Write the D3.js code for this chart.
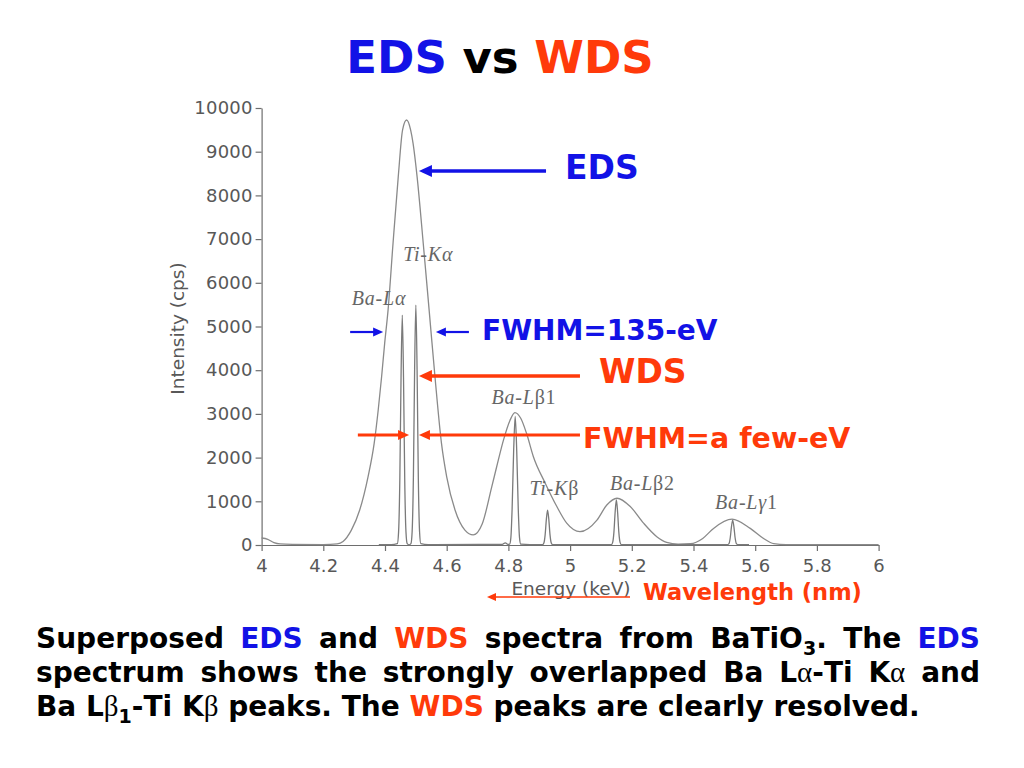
<!DOCTYPE html>
<html>
<head>
<meta charset="utf-8">
<script src="https://d3js.org/d3.v7.min.js"></script>
<style>
  body { margin: 0; background: #fff; }
  svg { display: block; }
</style>
</head>
<body>
<div id="main"></div>
<script>
// ---- data ----
const xTicks = [4, 4.2, 4.4, 4.6, 4.8, 5, 5.2, 5.4, 5.6, 5.8, 6];
const yTicks = [0, 1000, 2000, 3000, 4000, 5000, 6000, 7000, 8000, 9000, 10000];

// EDS spectrum, [energy keV, intensity cps]
const edsSpectrum = [
  [4.000, 160], [4.020, 130], [4.040, 55], [4.060, 25], [4.100, 15], [4.200, 10],
  [4.245, 25], [4.264, 80], [4.291, 340], [4.318, 800], [4.345, 1560], [4.365, 2330],
  [4.378, 3090], [4.389, 3850], [4.399, 4620], [4.410, 5380], [4.426, 6900], [4.443, 8430],
  [4.457, 9500], [4.470, 9725], [4.483, 9500], [4.491, 9190], [4.504, 8430], [4.524, 6900],
  [4.543, 5380], [4.562, 3850], [4.583, 2330], [4.600, 1560], [4.627, 800], [4.659, 340],
  [4.686, 230], [4.715, 480], [4.746, 1330], [4.762, 1790], [4.784, 2400], [4.805, 2850],
  [4.821, 3030], [4.840, 2900], [4.859, 2550], [4.881, 2020], [4.919, 1420], [4.957, 880],
  [4.989, 500], [5.032, 305], [5.087, 570], [5.119, 915], [5.152, 1070], [5.195, 880],
  [5.238, 500], [5.281, 190], [5.313, 60], [5.350, 20], [5.390, 30], [5.430, 150],
  [5.465, 380], [5.525, 590], [5.584, 380], [5.627, 150], [5.660, 30], [5.700, 10],
  [6.000, 10]
];

// WDS spectrum, [energy keV, intensity cps]
const wdsSpectrum = [
  [4.380, 10], [4.420, 10], [4.440, 30], [4.444, 295], [4.448, 1470], [4.452, 3840],
  [4.456, 5260], [4.460, 3840], [4.464, 1470], [4.468, 295], [4.472, 30], [4.478, 5],
  [4.484, 30], [4.488, 310], [4.492, 1540], [4.496, 4010], [4.500, 5490], [4.504, 4010],
  [4.508, 1540], [4.512, 310], [4.516, 30], [4.540, 10], [4.560, 10],
  [4.780, 15], [4.790, 50], [4.798, 15], [4.804, 20], [4.808, 170], [4.812, 820],
  [4.817, 2150], [4.822, 2940], [4.827, 2150], [4.832, 820], [4.836, 170], [4.840, 20],
  [4.870, 10], [4.911, 10], [4.915, 45], [4.919, 225], [4.923, 585], [4.927, 800],
  [4.931, 585], [4.935, 225], [4.939, 45], [4.943, 10], [5.100, 10], [5.134, 10],
  [5.138, 60], [5.142, 290], [5.146, 750], [5.150, 1030], [5.154, 750], [5.158, 290],
  [5.162, 60], [5.166, 10], [5.200, 10], [5.480, 10], [5.511, 10], [5.515, 30],
  [5.519, 160], [5.523, 415], [5.527, 570], [5.531, 415], [5.535, 160], [5.539, 30],
  [5.543, 10], [5.580, 10]
];

// peak names and where they sit (energy, intensity of baseline)
const peakLabels = [
  { name: "Ba-L", greek: "α", sub: "",  energy: 4.292, level: 5490 },
  { name: "Ti-K", greek: "α", sub: "",  energy: 4.459, level: 6500 },
  { name: "Ba-L", greek: "β", sub: "1", energy: 4.745, level: 3220 },
  { name: "Ti-K", greek: "β", sub: "",  energy: 4.868, level: 1140 },
  { name: "Ba-L", greek: "β", sub: "2", energy: 5.129, level: 1260 },
  { name: "Ba-L", greek: "γ", sub: "1", energy: 5.470, level: 830 }
];

const captionLines = [
  [[{t: "Superposed"}], [{t: "EDS", c: "eds"}], [{t: "and"}], [{t: "WDS", c: "wds"}],
   [{t: "spectra"}], [{t: "from"}], [{t: "BaTiO"}, {t: "3", sub: true}, {t: "."}],
   [{t: "The"}], [{t: "EDS", c: "eds"}]],
  [[{t: "spectrum"}], [{t: "shows"}], [{t: "the"}], [{t: "strongly"}], [{t: "overlapped"}],
   [{t: "Ba"}], [{t: "L"}, {t: "α", greek: true}, {t: "-Ti"}], [{t: "K"}, {t: "α", greek: true}],
   [{t: "and"}]],
  [[{t: "Ba"}], [{t: "L"}, {t: "β", greek: true}, {t: "1", sub: true}, {t: "-Ti"}],
   [{t: "K"}, {t: "β", greek: true}], [{t: "peaks."}], [{t: "The"}], [{t: "WDS", c: "wds"}],
   [{t: "peaks"}], [{t: "are"}], [{t: "clearly"}], [{t: "resolved."}]]
];

const EDS_BLUE = "#1212e6";
const WDS_RED = "#ff3a0a";
const BOLD_FONT = "'DejaVu Sans', Verdana, sans-serif";
const SERIF_FONT = "'Liberation Serif', 'DejaVu Serif', serif";
const AXIS_GREY = "#6e6e6e";
const TEXT_GREY = "#585858";

const width = 1024, height = 768;

const svg = d3.select("#main").append("svg")
  .attr("width", width)
  .attr("height", height);

const x = d3.scaleLinear().domain([4, 6]).range([261.6, 878.6]);
const y = d3.scaleLinear().domain([0, 10000]).range([545, 108]);

function drawTitle() {
  const t = svg.append("text")
    .attr("x", 500)
    .attr("y", 73)
    .attr("text-anchor", "middle")
    .attr("font-family", BOLD_FONT)
    .attr("font-weight", "bold")
    .attr("font-size", 45);
  t.append("tspan").attr("fill", EDS_BLUE).text("EDS");
  t.append("tspan").attr("fill", "#000").text(" vs ");
  t.append("tspan").attr("fill", WDS_RED).text("WDS");
}

function drawAxes() {
  const yAxis = svg.append("g")
    .attr("transform", `translate(${x(4)},0)`)
    .call(d3.axisLeft(y).tickValues(yTicks).tickSize(6).tickSizeOuter(0).tickPadding(3)
      .tickFormat(d3.format("d")));

  const xAxis = svg.append("g")
    .attr("transform", `translate(0,${y(0)})`)
    .call(d3.axisBottom(x).tickValues(xTicks).tickSize(6).tickSizeOuter(0).tickPadding(8)
      .tickFormat(d3.format("~g")));

  [yAxis, xAxis].forEach(g => {
    g.select(".domain").attr("stroke", AXIS_GREY).attr("stroke-width", 1.2);
    g.selectAll(".tick line").attr("stroke", AXIS_GREY).attr("stroke-width", 1.2);
    g.selectAll(".tick text")
      .attr("fill", TEXT_GREY)
      .attr("font-family", "'DejaVu Sans', sans-serif")
      .attr("font-size", 18)
      .attr("letter-spacing", 0.2);
  });

  svg.append("text")
    .attr("transform", `translate(184,${y(5000) + 2}) rotate(-90)`)
    .attr("text-anchor", "middle")
    .attr("fill", TEXT_GREY)
    .attr("font-family", "'DejaVu Sans', sans-serif")
    .attr("font-size", 18.5)
    .text("Intensity (cps)");

  svg.append("text")
    .attr("x", 571)
    .attr("y", 595)
    .attr("text-anchor", "middle")
    .attr("fill", TEXT_GREY)
    .attr("font-family", "'DejaVu Sans', sans-serif")
    .attr("font-size", 18.5)
    .text("Energy (keV)");
}

function drawSpectra() {
  const line = d3.line()
    .x(d => x(d[0]))
    .y(d => y(d[1]))
    .curve(d3.curveMonotoneX);

  svg.append("path")
    .datum(edsSpectrum)
    .attr("fill", "none")
    .attr("stroke", "#8a8a8a")
    .attr("stroke-width", 1.3)
    .attr("d", line);

  svg.append("path")
    .datum(wdsSpectrum)
    .attr("fill", "none")
    .attr("stroke", "#7a7a7a")
    .attr("stroke-width", 1.3)
    .attr("d", line);

  const labels = svg.append("g")
    .attr("fill", "#666")
    .attr("font-family", SERIF_FONT)
    .attr("font-size", 20)
    .attr("letter-spacing", 0.8);

  peakLabels.forEach(p => {
    const t = labels.append("text")
      .attr("x", x(p.energy))
      .attr("y", y(p.level));
    t.append("tspan").attr("font-style", "italic").text(p.name);
    t.append("tspan").attr("font-style", p.greek === "β" ? "normal" : "italic").text(p.greek);
    if (p.sub) t.append("tspan").text(p.sub);
  });
}

// horizontal arrow from tail to tip, head drawn at the tip
function drawArrow(x1, x2, yy, color, w, headLen, headHalf) {
  const dir = Math.sign(x2 - x1);
  svg.append("line")
    .attr("x1", x1)
    .attr("x2", x2 - dir * headLen * 0.7)
    .attr("y1", yy)
    .attr("y2", yy)
    .attr("stroke", color)
    .attr("stroke-width", w);
  svg.append("path")
    .attr("d", `M${x2},${yy} L${x2 - dir * headLen},${yy - headHalf} L${x2 - dir * headLen},${yy + headHalf} Z`)
    .attr("fill", color);
}

function boldLabel(txt, px, py, size, color) {
  svg.append("text")
    .attr("x", px)
    .attr("y", py)
    .attr("fill", color)
    .attr("font-family", BOLD_FONT)
    .attr("font-weight", "bold")
    .attr("font-size", size)
    .text(txt);
}

function drawAnnotations() {
  // EDS pointer
  drawArrow(x(4.922), x(4.510), y(8560), EDS_BLUE, 3.5, 13, 6);
  boldLabel("EDS", 565, 179, 33, EDS_BLUE);

  // EDS FWHM
  drawArrow(x(4.287), x(4.394), y(4874), EDS_BLUE, 2.2, 10, 4.5);
  drawArrow(x(4.672), x(4.565), y(4874), EDS_BLUE, 2.2, 10, 4.5);
  boldLabel("FWHM=135-eV", 482, 340, 28, EDS_BLUE);

  // WDS pointer
  drawArrow(x(5.032), x(4.510), y(3867), WDS_RED, 3.5, 13, 6);
  boldLabel("WDS", 599, 383, 33, WDS_RED);

  // WDS FWHM
  drawArrow(x(4.312), x(4.478), y(2517), WDS_RED, 3, 11, 5);
  drawArrow(x(5.032), x(4.510), y(2517), WDS_RED, 3, 11, 5);
  boldLabel("FWHM=a few-eV", 583, 448, 28.5, WDS_RED);

  // wavelength direction under the energy axis
  drawArrow(630, 487, y(0) + 52, WDS_RED, 1.6, 9, 4);
  boldLabel("Wavelength (nm)", 643, 600, 22.5, WDS_RED);
}

function drawCaption() {
  const left = 36, right = 980, baselines = [648, 682, 716];
  const fs = 28;

  captionLines.forEach((words, li) => {
    const nodes = words.map(runs => {
      const t = svg.append("text")
        .attr("y", baselines[li])
        .attr("font-family", BOLD_FONT)
        .attr("font-weight", "bold")
        .attr("font-size", fs)
        .attr("fill", "#000");
      let shifted = false;
      runs.forEach(r => {
        const ts = t.append("tspan").text(r.t);
        if (r.c === "eds") ts.attr("fill", EDS_BLUE);
        if (r.c === "wds") ts.attr("fill", WDS_RED);
        if (r.greek) ts.attr("font-family", SERIF_FONT).attr("font-weight", "normal").attr("font-size", fs + 1);
        if (r.sub) {
          ts.attr("font-size", fs * 0.68).attr("dy", 7);
          shifted = true;
        } else if (shifted) {
          ts.attr("dy", -7);
          shifted = false;
        }
      });
      return t;
    });

    const widths = nodes.map(n => n.node().getComputedTextLength());
    const total = d3.sum(widths);
    const last = li === captionLines.length - 1;
    const gap = last ? fs * 0.348 : (right - left - total) / (nodes.length - 1);

    let cx = left;
    nodes.forEach((n, i) => {
      n.attr("x", cx);
      cx += widths[i] + gap;
    });
  });
}

drawTitle();
drawAxes();
drawSpectra();
drawAnnotations();
drawCaption();
</script>
</body>
</html>
